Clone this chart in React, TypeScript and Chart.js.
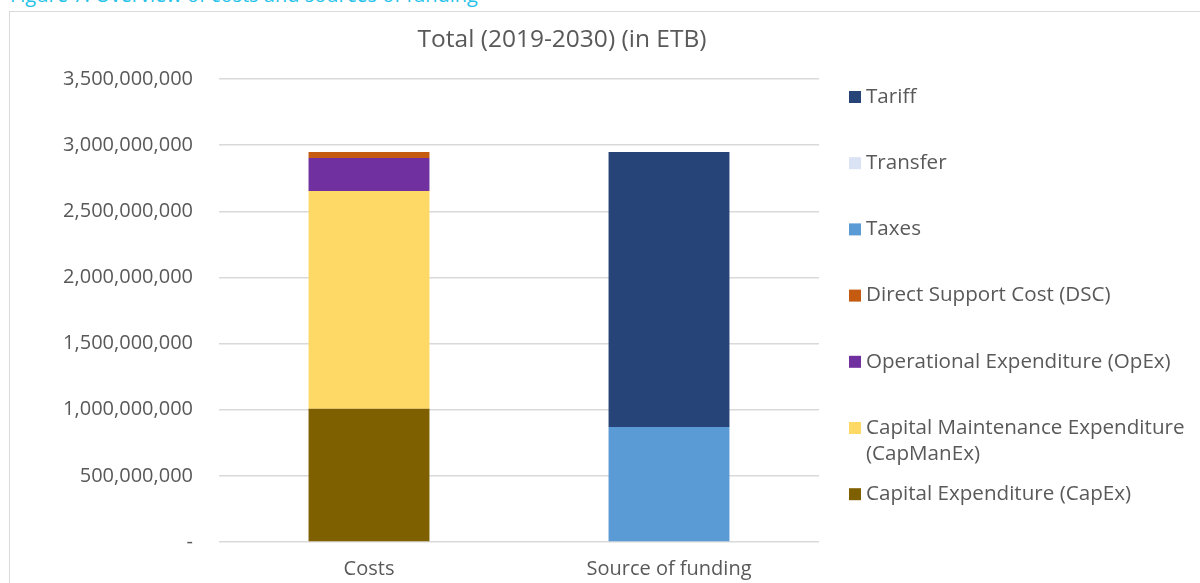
import React, { useEffect, useRef } from "react";
import { Chart, registerables } from "chart.js";

Chart.register(...registerables);

const categories = ["Costs", "Source of funding"];
const capex = [1008000000, 0];
const capManEx = [1645000000, 0];
const opex = [249000000, 0];
const dsc = [46000000, 0];
const taxes = [0, 869000000];
const transfer = [0, 0];
const tariff = [0, 2079000000];

const seriesLabels = [
  "Capital Expenditure (CapEx)",
  "Capital Maintenance Expenditure (CapManEx)",
  "Operational Expenditure (OpEx)",
  "Direct Support Cost (DSC)",
  "Taxes",
  "Transfer",
  "Tariff",
];
const seriesColors = ["#7f6000", "#ffd966", "#7030a0", "#c55a11", "#5b9bd5", "#dae3f3", "#264478"];
const seriesValues = [capex, capManEx, opex, dsc, taxes, transfer, tariff];

const chartTitle = "Total (2019-2030) (in ETB)";
const figureCaption = "Figure 7: Overview of costs and sources of funding";

const FONT = "'Open Sans', 'Noto Sans', sans-serif";
const TEXT = "#595959";

const overlayPlugin = {
  id: "overlay",
  afterDraw(chart: any) {
    const ctx = chart.ctx;
    ctx.save();
    // title
    ctx.fillStyle = TEXT;
    ctx.font = `24.5px ${FONT}`;
    ctx.textAlign = "center";
    ctx.textBaseline = "middle";
    ctx.fillText(chartTitle, 562, 40);
    // legend (reversed order like Excel)
    ctx.font = `20.6px ${FONT}`;
    ctx.textAlign = "left";
    const n = chart.data.datasets.length;
    const startY = 97;
    const step = 66.2;
    const maxW = 330;
    for (let i = 0; i < n; i++) {
      const ds = chart.data.datasets[n - 1 - i];
      const cy = startY + i * step;
      ctx.fillStyle = ds.backgroundColor;
      ctx.fillRect(849, cy - 6, 12, 12);
      ctx.fillStyle = TEXT;
      const words = String(ds.label).split(" ");
      const lines: string[] = [];
      let cur = "";
      for (const w of words) {
        const t = cur ? cur + " " + w : w;
        if (ctx.measureText(t).width > maxW && cur) {
          lines.push(cur);
          cur = w;
        } else cur = t;
      }
      if (cur) lines.push(cur);
      lines.forEach((ln, k) => ctx.fillText(ln, 866, cy + k * 26));
    }
    ctx.restore();
  },
};

export default function App() {
  const ref = useRef<HTMLCanvasElement | null>(null);
  useEffect(() => {
    if (!ref.current) return;
    const chart = new Chart(ref.current, {
      type: "bar",
      data: {
        labels: categories,
        datasets: seriesLabels.map((l, i) => ({
          label: l,
          data: seriesValues[i],
          backgroundColor: seriesColors[i],
          borderWidth: 0,
          categoryPercentage: 1,
          barPercentage: 0.403,
        })),
      },
      options: {
        responsive: false,
        animation: false,
        layout: { padding: { top: 79, right: 381, left: 0, bottom: 0 } },
        plugins: { legend: { display: false }, title: { display: false }, tooltip: { enabled: false } },
        scales: {
          x: {
            stacked: true,
            grid: { display: false, drawTicks: false },
            border: { display: false },
            ticks: { color: TEXT, font: { family: FONT, size: 20 }, padding: 15 },
            afterFit: (s: any) => {
              s.height = 41;
            },
          },
          y: {
            stacked: true,
            min: 0,
            max: 3500000000,
            grid: { color: "#d9d9d9", lineWidth: 1.5, drawTicks: false },
            border: { display: false },
            ticks: {
              stepSize: 500000000,
              color: TEXT,
              font: { family: FONT, size: 20 },
              padding: 26,
              callback: (v: any) => (Number(v) === 0 ? "-" : Number(v).toLocaleString("en-US")),
            },
            afterFit: (s: any) => {
              s.width = 219;
            },
          },
        },
      },
      plugins: [overlayPlugin],
    });
    return () => chart.destroy();
  }, []);

  return (
    <div style={{ position: "absolute", left: 0, top: 0, width: 1200, height: 583, overflow: "hidden", background: "#fff" }}>
      <div
        style={{
          position: "absolute",
          left: 10,
          top: -17,
          fontFamily: FONT,
          fontSize: 20,
          color: "#25c3e9",
          whiteSpace: "nowrap",
          lineHeight: "24px",
        }}
      >
        {figureCaption}
      </div>
      <div
        style={{
          position: "absolute",
          left: 9,
          top: 11,
          width: 1400,
          height: 800,
          border: "1px solid #d9d9d9",
        }}
      />
      <canvas ref={ref} width={1200} height={583} style={{ position: "absolute", left: 0, top: 0 }} />
    </div>
  );
}
